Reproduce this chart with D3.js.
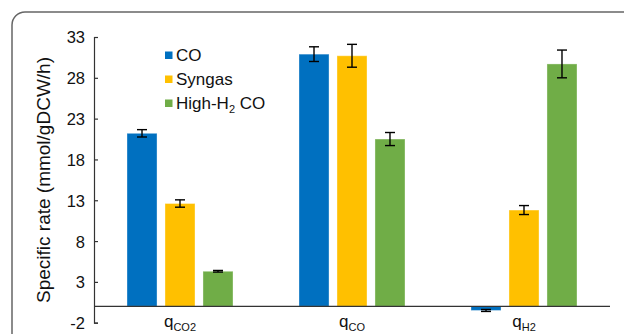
<!DOCTYPE html>
<html>
<head>
<meta charset="utf-8">
<script src="https://cdn.jsdelivr.net/npm/d3@7"></script>
<style>
  body { margin: 0; background: #fff; }
  svg { display: block; font-family: 'Liberation Sans', Arial, sans-serif; }
</style>
</head>
<body>
<div id="chart"></div>
<script>
// data
const categories = ['CO2', 'CO', 'H2']
const seriesNames = ['CO', 'Syngas', 'High-H2 CO']
const coValues = [21.2, 30.9, -0.5]
const coErrors = [0.45, 0.9, 0.12]
const syngasValues = [12.6, 30.7, 11.8]
const syngasErrors = [0.45, 1.4, 0.55]
const highH2Values = [4.3, 20.5, 29.7]
const highH2Errors = [0.1, 0.8, 1.7]
const yTicks = [-2, 3, 8, 13, 18, 23, 28, 33]
const colors = ['#0070C0', '#FFC000', '#70AD47']

const W = 624, H = 334
const svg = d3.select('#chart').append('svg').attr('width', W).attr('height', H)

// frame
svg.append('rect')
  .attr('x', 12).attr('y', 12)
  .attr('width', W + 20).attr('height', H + 20)
  .attr('rx', 13)
  .attr('fill', 'none').attr('stroke', '#666').attr('stroke-width', 1.5)

const x = d3.scaleBand().domain(categories).range([94, 610])
const x1 = d3.scaleBand().domain(d3.range(3)).range([0, 106]).paddingInner(0.21)
const y = d3.scaleLinear().domain([-2, 33]).range([322.7, 37])

const series = [
  { values: coValues, errors: coErrors },
  { values: syngasValues, errors: syngasErrors },
  { values: highH2Values, errors: highH2Errors }
]

// bars
series.forEach((s, i) => {
  const g = svg.append('g')
  categories.forEach((c, j) => {
    const v = s.values[j]
    const bx = x(c) + (x.bandwidth() - 106) / 2 + x1(i)
    g.append('rect')
      .attr('x', bx)
      .attr('y', Math.min(y(v), y(0)))
      .attr('width', x1.bandwidth())
      .attr('height', Math.abs(y(v) - y(0)))
      .attr('fill', colors[i])
      .attr('stroke', '#fff').attr('stroke-opacity', 0.35).attr('stroke-width', 1)
    // error bar
    const cx = bx + x1.bandwidth() / 2
    const e = s.errors[j]
    const eg = g.append('g').attr('stroke', '#000').attr('stroke-width', 1.4)
    eg.append('line').attr('x1', cx).attr('x2', cx).attr('y1', y(v + e)).attr('y2', y(v - e))
    eg.append('line').attr('x1', cx - 5).attr('x2', cx + 5).attr('y1', y(v + e)).attr('y2', y(v + e))
    eg.append('line').attr('x1', cx - 5).attr('x2', cx + 5).attr('y1', y(v - e)).attr('y2', y(v - e))
  })
})

// zero line
svg.append('line')
  .attr('x1', 94).attr('x2', 610)
  .attr('y1', y(0)).attr('y2', y(0))
  .attr('stroke', '#333').attr('stroke-width', 1.2)

// y axis
const yAxis = svg.append('g')
  .attr('transform', 'translate(94,0)')
  .call(d3.axisRight(y).tickValues(yTicks).tickSize(4).tickFormat((d) => String(d)))
yAxis.select('.domain').attr('stroke', '#333').attr('stroke-width', 1.2)
yAxis.selectAll('.tick line').attr('stroke', '#333').attr('stroke-width', 1.2)
yAxis.selectAll('.tick text')
  .attr('x', -9).attr('text-anchor', 'end')
  .attr('font-size', 16.5).attr('fill', '#111')
  .attr('dy', '0.36em')

// y label
svg.append('text')
  .attr('transform', 'translate(50,' + 180 + ') rotate(-90)')
  .attr('text-anchor', 'middle')
  .attr('font-size', 19).attr('fill', '#111')
  .text('Specific rate (mmol/gDCW/h)')

// category labels
categories.forEach((c) => {
  const t = svg.append('text')
    .attr('x', x(c) + x.bandwidth() / 2)
    .attr('y', 327)
    .attr('text-anchor', 'middle')
    .attr('fill', '#111')
  t.append('tspan').attr('font-size', 17).text('q')
  t.append('tspan').attr('font-size', 11).attr('dy', 4).text(c)
})

// legend
const legend = svg.append('g').attr('transform', 'translate(165,55)')
seriesNames.forEach((name, i) => {
  const row = legend.append('g').attr('transform', 'translate(0,' + i * 24 + ')')
  row.append('rect').attr('x', 0).attr('y', -3.5).attr('width', 7.5).attr('height', 7.5).attr('fill', colors[i])
  const t = row.append('text').attr('x', 11).attr('y', 0).attr('dy', '0.36em')
    .attr('font-size', 17).attr('fill', '#111')
  if (name === 'High-H2 CO') {
    t.append('tspan').text('High-H')
    t.append('tspan').attr('font-size', 11).attr('dy', 4).text('2')
    t.append('tspan').attr('dy', -4).text(' CO')
  } else {
    t.text(name)
  }
})
</script>
</body>
</html>
